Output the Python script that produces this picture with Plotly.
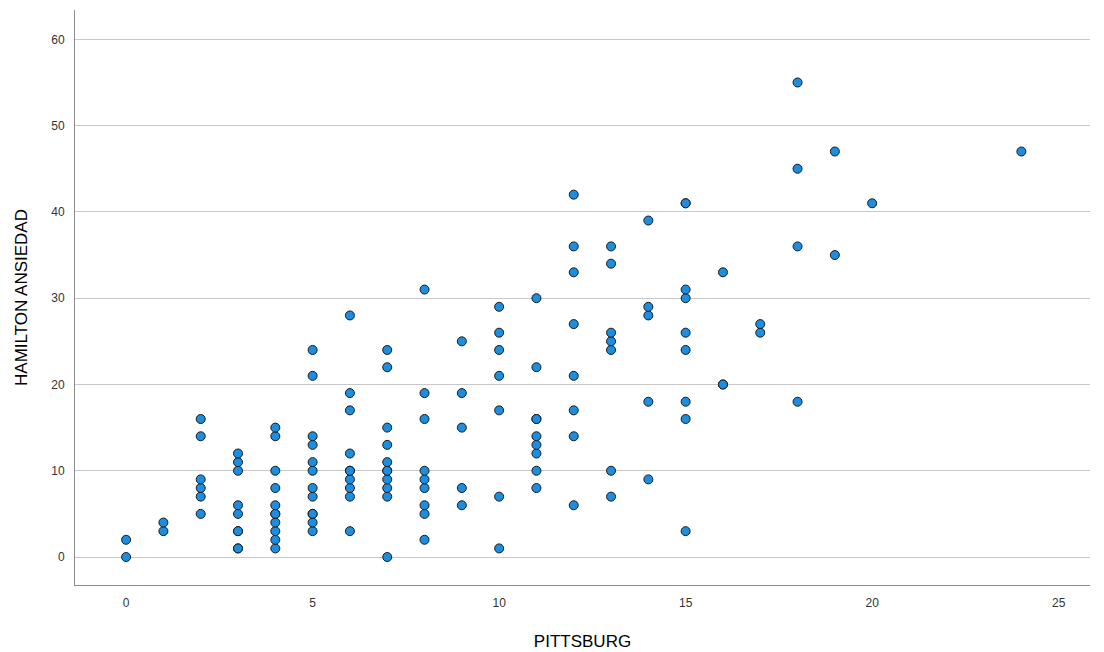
import plotly.graph_objects as go

# PITTSBURG (x) and HAMILTON ANSIEDAD (y) values
pittsburg = (
    [0, 0]
    + [1, 1]
    + [2] * 6
    + [3] * 9
    + [4] * 11
    + [5] * 12
    + [6] * 10
    + [7] * 11
    + [8] * 9
    + [9] * 5
    + [10] * 7
    + [11] * 9
    + [12] * 8
    + [13] * 7
    + [14] * 5
    + [15] * 9
    + [16] * 3
    + [17] * 2
    + [18] * 4
    + [19] * 2
    + [20]
    + [24]
)
hamilton = (
    [0, 2]
    + [3, 4]
    + [5, 7, 8, 9, 14, 16]
    + [1, 1, 3, 3, 5, 6, 10, 11, 12]
    + [1, 2, 3, 4, 5, 5, 6, 8, 10, 14, 15]
    + [3, 4, 5, 5, 7, 8, 10, 11, 13, 14, 21, 24]
    + [3, 7, 8, 9, 10, 10, 12, 17, 19, 28]
    + [0, 7, 8, 9, 10, 10, 11, 13, 15, 22, 24]
    + [2, 5, 6, 8, 9, 10, 16, 19, 31]
    + [6, 8, 15, 19, 25]
    + [1, 7, 17, 21, 24, 26, 29]
    + [8, 10, 12, 13, 14, 16, 16, 22, 30]
    + [6, 14, 17, 21, 27, 33, 36, 42]
    + [7, 10, 24, 25, 26, 34, 36]
    + [9, 18, 28, 29, 39]
    + [3, 16, 18, 24, 26, 30, 31, 41, 41]
    + [20, 20, 33]
    + [26, 27]
    + [18, 36, 45, 55]
    + [35, 47]
    + [41]
    + [47]
)

x_ticks = [0, 5, 10, 15, 20, 25]
y_ticks = [0, 10, 20, 30, 40, 50, 60]

fig = go.Figure()
fig.add_trace(go.Scatter(
    x=pittsburg, y=hamilton, mode="markers",
    marker=dict(size=9, color="#1b8ee2", line=dict(color="#1a1a1a", width=1)),
    showlegend=False, hoverinfo="x+y",
))

fig.update_layout(
    width=1104, height=652,
    margin=dict(l=75, r=14, t=10, b=67),
    paper_bgcolor="white", plot_bgcolor="white",
    font=dict(family="Liberation Sans, Arial, sans-serif", color="#333333", size=12),
    xaxis=dict(
        range=[-1.37, 25.84], tickvals=x_ticks, showgrid=False, zeroline=False,
        showline=True, linecolor="#8c8c8c", linewidth=1,
        ticks="", ticklabelstandoff=7, automargin=False,
        tickfont=dict(size=12, color="#333333"),
        title=dict(text="PITTSBURG", font=dict(size=17, color="#000000"), standoff=25),
    ),
    yaxis=dict(
        range=[-3.24, 63.4], tickvals=y_ticks, showgrid=True, gridcolor="#c8c8c8", gridwidth=1,
        zeroline=False, showline=True, linecolor="#8c8c8c", linewidth=1,
        ticks="", ticklabelstandoff=7, automargin=False,
        tickfont=dict(size=12, color="#333333"),
        title=dict(text="HAMILTON ANSIEDAD", font=dict(size=17, color="#000000"), standoff=19),
    ),
)

fig.write_html("out.html")
